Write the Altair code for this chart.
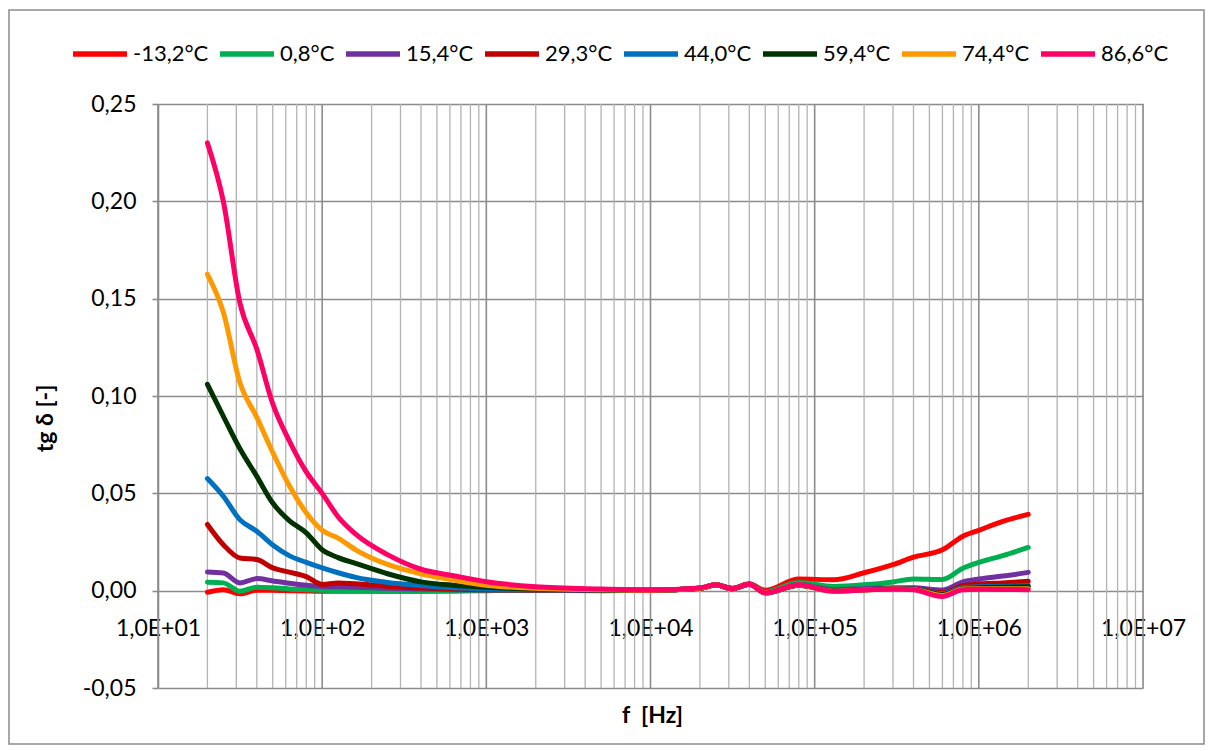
import altair as alt
import pandas as pd

FREQ = [20, 25, 31.5, 40, 50, 63, 80, 100, 125, 160, 250, 400, 630, 1000, 2000, 5000,
        10000, 20000, 25000, 31500, 40000, 50000, 80000, 130000, 200000, 300000, 400000,
        600000, 800000, 1000000, 1400000, 2000000]

SERIES = ["-13,2°C", "0,8°C", "15,4°C", "29,3°C", "44,0°C", "59,4°C", "74,4°C", "86,6°C"]
COLORS = ["#FF0000", "#00B050", "#7030A0", "#C00000", "#0070C0", "#003300", "#FF9900", "#FF0066"]

T_M13 = [-0.0008, 0.0005, -0.0016, 0.0002, 0.0002, 0.0, -0.0002, -0.0003, -0.0003, -0.0003, -0.0003,
         -0.0003, -0.0002, 0.0, 0.0002, 0.0, 0.0002, 0.0012, 0.003, 0.0012, 0.0035, 0.0002, 0.006,
         0.0056, 0.0092, 0.0134, 0.0172, 0.021, 0.028, 0.031, 0.0356, 0.0392]
T_08 = [0.0043, 0.004, -0.0003, 0.0018, 0.0015, 0.0009, 0.0005, 0.0002, 0.0001, 0.0001, 0.0, 0.0,
        0.0, 0.0001, 0.0002, 0.0001, 0.0002, 0.0012, 0.003, 0.0011, 0.0034, -0.0006, 0.0042, 0.0022,
        0.003, 0.0045, 0.006, 0.0057, 0.0115, 0.0145, 0.018, 0.0222]
T_154 = [0.0096, 0.0091, 0.004, 0.0062, 0.005, 0.0038, 0.0028, 0.0022, 0.002, 0.0018, 0.0012, 0.0008,
         0.0005, 0.0004, 0.0003, 0.0002, 0.0002, 0.0012, 0.003, 0.0011, 0.0033, -0.0008, 0.003, 0.0005,
         0.001, 0.0015, 0.0015, 0.0003, 0.0045, 0.006, 0.0075, 0.0094]
T_293 = [0.034, 0.0236, 0.0168, 0.016, 0.0117, 0.0095, 0.0072, 0.0032, 0.004, 0.0035, 0.0022, 0.0014,
         0.0008, 0.0005, 0.0004, 0.0002, 0.0002, 0.0012, 0.003, 0.0011, 0.0033, -0.001, 0.0028, 0.0001,
         0.0006, 0.001, 0.001, -0.001, 0.0025, 0.0035, 0.004, 0.0048]
T_440 = [0.0576, 0.0485, 0.0365, 0.0305, 0.0235, 0.018, 0.0145, 0.0117, 0.0092, 0.0068, 0.0042, 0.0026,
         0.0015, 0.0009, 0.0005, 0.0003, 0.0002, 0.0012, 0.003, 0.001, 0.0033, -0.0011, 0.0028, 0.0,
         0.0005, 0.001, 0.0008, -0.0015, 0.0015, 0.002, 0.0022, 0.0026]
T_594 = [0.106, 0.0896, 0.073, 0.0587, 0.045, 0.036, 0.0297, 0.021, 0.017, 0.014, 0.0087, 0.0045,
         0.0028, 0.0018, 0.0008, 0.0004, 0.0002, 0.0012, 0.003, 0.001, 0.0033, -0.0011, 0.0028, -0.0002,
         0.0004, 0.0009, 0.0007, -0.002, 0.001, 0.0015, 0.0018, 0.002]
T_744 = [0.1625, 0.143, 0.107, 0.089, 0.071, 0.054, 0.040, 0.031, 0.027, 0.021, 0.0135, 0.0087,
         0.0055, 0.0028, 0.0012, 0.0005, 0.0002, 0.0013, 0.003, 0.001, 0.0033, -0.0011, 0.0029, -0.0003,
         0.0003, 0.0009, 0.0006, -0.0025, 0.0008, 0.001, 0.001, 0.001]
T_866 = [0.230, 0.200, 0.148, 0.124, 0.096, 0.077, 0.061, 0.050, 0.038, 0.029, 0.0185, 0.011,
         0.0077, 0.0046, 0.002, 0.0008, 0.0003, 0.0014, 0.003, 0.001, 0.0033, -0.0012, 0.003, -0.0003,
         0.0003, 0.0009, 0.0005, -0.003, 0.0005, 0.0007, 0.0006, 0.0005]

VALUES = [T_M13, T_08, T_154, T_293, T_440, T_594, T_744, T_866]

MAJOR_X = [10, 100, 1000, 10000, 100000, 1000000, 10000000]
MINOR_X = [m * d for d in MAJOR_X[:-1] for m in range(2, 10)]
Y_TICKS = [-0.05, 0.0, 0.05, 0.10, 0.15, 0.20, 0.25]

rows = []
for i, (name, vals) in enumerate(zip(SERIES, VALUES)):
    for f, v in zip(FREQ, vals):
        rows.append({"f": f, "tg": v, "series": name, "order": i})
df = pd.DataFrame(rows)

W, H = 985, 584
FONT = "Lato"

xscale = alt.Scale(type="log", domain=[10, 10000000], nice=False)
yscale = alt.Scale(domain=[-0.05, 0.25], nice=False, zero=False)

minor = alt.Chart(pd.DataFrame({"f": MINOR_X})).mark_rule(color="#B3B3B3", strokeWidth=1.3).encode(
    x=alt.X("f:Q", scale=xscale), y=alt.value(0), y2=alt.value(H))
major = alt.Chart(pd.DataFrame({"f": MAJOR_X})).mark_rule(color="#8C8C8C", strokeWidth=1.6).encode(
    x=alt.X("f:Q", scale=xscale), y=alt.value(0), y2=alt.value(H))

frame = alt.Chart(pd.DataFrame({"a": [0]})).mark_rect(
    fill=None, stroke="#8C8C8C", strokeWidth=1.5).encode(
    x=alt.value(-149), x2=alt.value(1046), y=alt.value(-94), y2=alt.value(640))

lines = alt.Chart(df).mark_line(strokeWidth=5, interpolate="monotone", strokeCap="round",
                                strokeJoin="round").encode(
    x=alt.X("f:Q", scale=xscale,
            axis=alt.Axis(values=MAJOR_X, grid=False, domain=False, ticks=False,
                          labelExpr="'1,0E+0' + round(log(datum.value)/LN10)",
                          labelFont=FONT, labelFontSize=23, labelColor="#000000",
                          labelPadding=26, labelOverlap=False, labelFlush=False, offset=-97,
                          title="f\u00a0\u00a0[Hz]", titleFont=FONT, titleFontSize=23,
                          titleFontWeight="bold",
                          titleColor="#000000", titleX=494, titleY=124, titleBaseline="middle",
                          titleAlign="center")),
    y=alt.Y("tg:Q", scale=yscale,
            axis=alt.Axis(values=Y_TICKS, grid=True, gridColor="#8C8C8C", gridWidth=1.6,
                          domain=True, domainColor="#8C8C8C", domainWidth=1.6,
                          ticks=True, tickColor="#8C8C8C", tickSize=6, tickWidth=1.6,
                          labelExpr="(datum.value < -0.0001 ? '-' : '') + replace(format(abs(datum.value), '.2f'), '.', ',')",
                          labelFont=FONT, labelFontSize=23, labelColor="#000000", labelPadding=16,
                          title="tg δ [-]", titleFont=FONT, titleFontSize=23, titleFontWeight="bold",
                          titleColor="#000000", titleX=-113, titleY=314, titleAngle=-90,
                          titleBaseline="middle", titleAlign="center")),
    color=alt.Color("series:N", sort=SERIES,
                    scale=alt.Scale(domain=SERIES, range=COLORS),
                    legend=alt.Legend(orient="none", direction="horizontal", columns=8,
                                      legendX=-88, legendY=-80, title=None,
                                      symbolType="stroke", symbolSize=2916, symbolStrokeWidth=5.5,
                                      labelFont=FONT, labelFontSize=22, labelColor="#000000",
                                      labelOffset=3, columnPadding=0, labelLimit=300)),
    order=alt.Order("order:Q"),
    detail="series:N",
)

chart = alt.layer(frame, minor, major, lines).properties(
    width=W, height=H,
    autosize=alt.AutoSizeParams(type="none"),
    padding={"left": 150, "top": 96, "right": 62, "bottom": 63},
).configure_view(stroke=None).configure(background="white")

chart.save("out.html", embed_options={"renderer": "svg", "actions": False})
